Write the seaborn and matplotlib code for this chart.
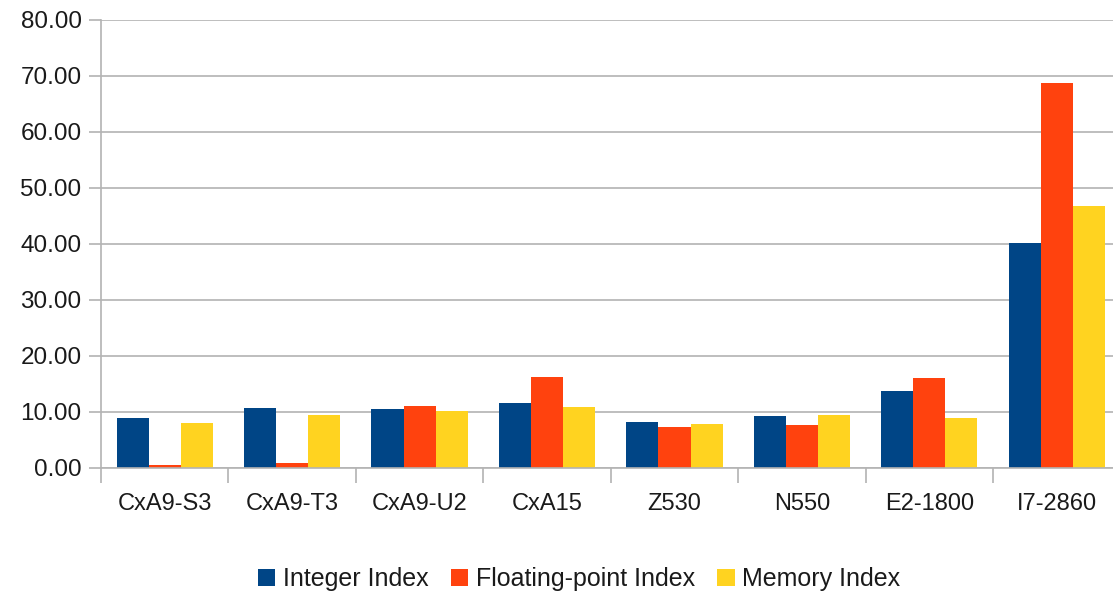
import pandas as pd
import numpy as np
import matplotlib
matplotlib.use("Agg")
import matplotlib.pyplot as plt
import seaborn as sns
from matplotlib.ticker import FixedLocator, FormatStrFormatter

# data
cpus = ["CxA9-S3", "CxA9-T3", "CxA9-U2", "CxA15", "Z530", "N550", "E2-1800", "I7-2860"]
integer_index = [8.85, 10.65, 10.45, 11.6, 8.3, 9.2, 13.75, 40.1]
float_index = [0.6, 0.85, 11.05, 16.25, 7.25, 7.6, 16.1, 68.7]
memory_index = [8.0, 9.45, 10.1, 10.9, 7.8, 9.45, 8.85, 46.7]
series_names = ["Integer Index", "Floating-point Index", "Memory Index"]
colors = ["#004586", "#ff420e", "#ffd320"]

df = pd.DataFrame({
    "cpu": cpus * 3,
    "series": np.repeat(series_names, len(cpus)),
    "value": integer_index + float_index + memory_index,
})

sns.set_style("white")
plt.rcParams["font.family"] = ["Liberation Sans", "DejaVu Sans"]

fig = plt.figure(figsize=(11.13, 5.91), dpi=100)
ax = fig.add_axes([101 / 1113, 1 - 468 / 591, 1019.5 / 1113, 448 / 591])

sns.barplot(data=df, x="cpu", y="value", hue="series", palette=colors,
            width=0.755, gap=0, saturation=1, linewidth=0, ax=ax, legend=True)

ax.set_ylim(0, 80)
ax.set_xlim(-0.5, 7.5)
ax.yaxis.set_major_locator(FixedLocator(np.arange(0, 81, 10)))
ax.yaxis.set_major_formatter(FormatStrFormatter("%.2f"))
ax.grid(axis="y", color="#b3b3b3", linewidth=1.2)
ax.set_axisbelow(True)

# category boundaries as minor ticks below the axis
ax.xaxis.set_minor_locator(FixedLocator(np.arange(-0.5, 8, 1)))
ax.tick_params(axis="x", which="major", length=0, pad=18, labelsize=17, labelcolor="#1a1a1a")
ax.tick_params(axis="x", which="minor", length=11, width=1.2, color="#b3b3b3", direction="out", bottom=True)
ax.tick_params(axis="y", which="major", length=9, width=1.2, color="#b3b3b3", direction="out",
               left=True, pad=5, labelsize=17.5, labelcolor="#1a1a1a")

for side in ["top", "right"]:
    ax.spines[side].set_visible(False)
for side in ["left", "bottom"]:
    ax.spines[side].set_color("#b3b3b3")
    ax.spines[side].set_linewidth(1.2)

ax.set_xlabel("")
ax.set_ylabel("")

handles, labels = ax.get_legend_handles_labels()
ax.get_legend().remove()
fig.legend(handles, labels, loc="center", bbox_to_anchor=(579 / 1113, 1 - 579 / 591), ncol=3,
           frameon=False, fontsize=18, handlelength=0.7, handleheight=0.7,
           handletextpad=0.3, columnspacing=0.9, labelcolor="#1a1a1a")

fig.savefig("out.png", dpi=100)
